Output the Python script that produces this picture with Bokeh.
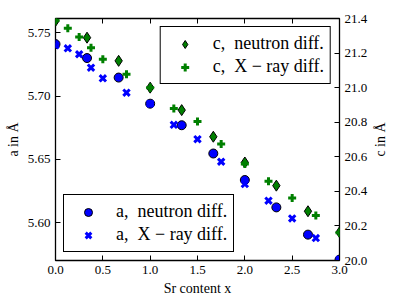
import math
from bokeh.plotting import figure
from bokeh.layouts import row
from bokeh.models import (Range1d, LinearAxis, FixedTicker, PrintfTickFormatter, Legend,
                          LegendItem, CustomLabelingPolicy, Label)
from bokeh.embed import file_html
from bokeh.resources import INLINE

# Sr content x
x_neutron = [0.0, 0.333, 0.667, 1.0, 1.333, 1.667, 2.0, 2.333, 2.667, 3.0]
x_xray = [0.0, 0.13, 0.25, 0.375, 0.5, 0.75, 1.0, 1.25, 1.5, 1.75, 2.0, 2.25, 2.5, 2.75, 3.0]

# lattice parameter a (Å)
a_neutron = [5.741, 5.730, 5.7146, 5.694, 5.677, 5.6547, 5.6338, 5.6122, 5.5907, 5.571]
a_xray = [5.740, 5.7377, 5.733, 5.7224, 5.714, 5.7027, 5.694, 5.6773, 5.666, 5.6482,
          5.6306, 5.6175, 5.6035, 5.588, 5.571]

# lattice parameter c (Å)
c_neutron = [21.386, 21.289, 21.155, 21.000, 20.870, 20.716, 20.567, 20.433, 20.285, 20.163]
c_xray = [21.39, 21.343, 21.293, 21.231, 21.164, 21.078, 21.0, 20.879, 20.804, 20.674,
          20.558, 20.458, 20.362, 20.26, 20.16]

x_ticks = [0.0, 0.5, 1.0, 1.5, 2.0, 2.5, 3.0]
a_ticks = [5.60, 5.65, 5.70, 5.75]
c_ticks = [20.0, 20.2, 20.4, 20.6, 20.8, 21.0, 21.2, 21.4]

FONT = "Liberation Serif"
W, H = 370, 300
BL, BR, BT, BB = 55, 30, 18, 40

p = figure(width=W, height=H, x_range=Range1d(0, 3), y_range=Range1d(5.5703, 5.7612),
           output_backend="svg", toolbar_location=None,
           min_border_left=BL, min_border_right=BR, min_border_top=BT, min_border_bottom=BB)
p.extra_y_ranges = {"c": Range1d(20.0, 21.4)}
p.grid.visible = False
p.outline_line_color = "black"
p.outline_line_width = 1.3
p.background_fill_color = "white"
p.border_fill_color = "white"


def style_axis(ax, standoff):
    ax.axis_line_color = None
    ax.major_tick_in = 5
    ax.major_tick_out = 0
    ax.major_tick_line_color = "black"
    ax.major_tick_line_width = 1
    ax.minor_tick_line_color = None
    ax.major_label_text_font = FONT
    ax.major_label_text_font_size = "13px"
    ax.major_label_text_color = "black"
    ax.major_label_standoff = standoff
    ax.axis_label_text_font = FONT
    ax.axis_label_text_font_size = "14px"
    ax.axis_label_text_font_style = "normal"
    ax.axis_label_text_color = "black"


xa = p.xaxis[0]
xa.ticker = FixedTicker(ticks=x_ticks)
xa.formatter = PrintfTickFormatter(format="%.1f")
xa.axis_label = "Sr content x"
style_axis(xa, 5)
xa.axis_label_standoff = 4

ya = p.yaxis[0]
ya.ticker = FixedTicker(ticks=a_ticks)
ya.formatter = PrintfTickFormatter(format="%.2f")
ya.axis_label = "a in Å"
style_axis(ya, 5)
ya.axis_label_standoff = 4

yc = LinearAxis(y_range_name="c", ticker=FixedTicker(ticks=c_ticks),
                formatter=PrintfTickFormatter(format="%.1f"))
style_axis(yc, 5)
p.add_layout(yc, "right")

# top spine ticks only (no labels)
xt = LinearAxis(ticker=FixedTicker(ticks=x_ticks[1:-1]))
style_axis(xt, 0)
xt.major_label_text_font_size = "1px"
xt.major_label_policy = CustomLabelingPolicy(
    code="const all = Array.from(indices); for (const i of all) indices.unset(i); return indices")
p.add_layout(xt, "above")

r1 = p.scatter(x_neutron, a_neutron, marker="circle", size=9, fill_color="#0000ff",
               line_color="black", line_width=1)
r2 = p.scatter(x_xray, a_xray, marker="x", size=9, line_color="#0000ff", line_width=3)
r3 = p.scatter(x_neutron, c_neutron, marker="diamond", size=11, fill_color="#008000",
               line_color="black", line_width=1, y_range_name="c")
r4 = p.scatter(x_xray, c_xray, marker="cross", size=8, line_color="#008000", line_width=3,
               y_range_name="c")


def make_legend(items, loc):
    return Legend(items=items, location=loc, border_line_color="black", border_line_width=1,
                  border_line_alpha=1, background_fill_color="white", background_fill_alpha=1,
                  label_text_font=FONT, label_text_font_size="18px", label_text_color="black",
                  padding=6, spacing=2, glyph_width=36, glyph_height=20, label_height=20,
                  label_standoff=10, margin=8)


leg_c = make_legend([LegendItem(label="c,  neutron diff.", renderers=[r3]),
                     LegendItem(label="c,  X − ray diff.", renderers=[r4])], "top_right")
leg_a = make_legend([LegendItem(label="a,  neutron diff.", renderers=[r1]),
                     LegendItem(label="a,  X − ray diff.", renderers=[r2])], "bottom_left")
p.add_layout(leg_c)
p.add_layout(leg_a)

# narrow strip holding the right-hand axis title, reading bottom to top
# (its frame is aligned with the main plot's frame by the row layout)
side = figure(width=30, height=H, x_range=Range1d(0, 1), y_range=Range1d(0, 1),
              output_backend="svg", toolbar_location=None, min_border=0,
              x_axis_location=None, y_axis_location=None)
side.outline_line_color = None
side.grid.visible = False
side.background_fill_color = "white"
side.border_fill_color = "white"
side.add_layout(Label(x=10, y=(H - BT - BB) / 2, x_units="screen", y_units="screen",
                      text="c in Å", angle=math.pi / 2, text_align="center",
                      text_baseline="middle", text_font=FONT, text_font_size="14px",
                      text_color="black"))

layout = row(p, side, spacing=0)
open("out.html", "w").write(file_html(layout, INLINE))
